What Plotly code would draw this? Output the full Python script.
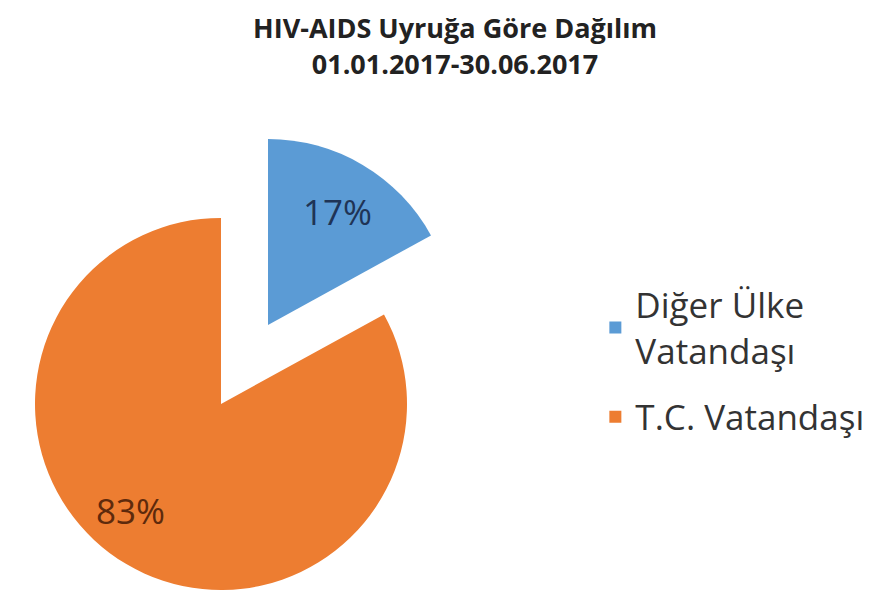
import plotly.graph_objects as go

# data
labels = ["Diğer Ülke<br>Vatandaşı", "T.C. Vatandaşı"]
values = [17, 83]
colors = ["#5B9BD5", "#ED7D31"]
text_colors = ["#1F3456", "#5E2A0C"]

title_text = "<b>HIV-AIDS Uyruğa Göre Dağılım<br>01.01.2017-30.06.2017</b>"

W, H = 894, 597
FONT = "Open Sans"
CLEAR = "rgba(0,0,0,0)"


def domain_px(cx, cy, r):
    """pie domain (paper units) for a circle given in figure pixels"""
    return dict(x=[(cx - r) / W, (cx + r) / W],
                y=[1 - (cy + r) / H, 1 - (cy - r) / H])


def pie(lbls, vals, marker_colors, dom, showlegend=False, group=None):
    return go.Pie(
        labels=lbls, values=vals, sort=False,
        direction="clockwise", rotation=0,
        marker=dict(colors=marker_colors),
        textinfo="none", hoverinfo="label+percent",
        domain=dom, showlegend=showlegend, legendgroup=group,
    )


fig = go.Figure()
# legend carriers (one per label so the groups get a gap), hidden under the orange slice
for i in range(len(labels)):
    fig.add_trace(pie([labels[i]], [values[i]], [colors[i]],
                      domain_px(150, 450, 1), showlegend=True, group=f"g{i}"))
# orange slice, blue left empty
fig.add_trace(pie(labels, values, [CLEAR, colors[1]], domain_px(213, 396, 186)))
# exploded blue slice
fig.add_trace(pie(labels, values, [colors[0], CLEAR], domain_px(260, 317, 186)))

total = sum(values)
label_pos = [(329, 204), (122, 502)]
for v, c, (px, py) in zip(values, text_colors, label_pos):
    fig.add_annotation(
        text=f"{round(100 * v / total)}%",
        x=px / W, y=1 - py / H, xref="paper", yref="paper",
        xanchor="center", yanchor="middle", showarrow=False,
        font=dict(family=FONT, size=35, color=c),
    )

fig.update_layout(
    width=W,
    height=H,
    paper_bgcolor="white",
    plot_bgcolor="white",
    margin=dict(t=0, l=0, r=0, b=0),
    title=dict(
        text=title_text,
        x=0.5, xanchor="center",
        y=0.949, yanchor="middle",
        font=dict(family=FONT, size=27, color="#222222"),
    ),
    legend=dict(
        x=0.657, xanchor="left",
        y=0.552, yanchor="top",
        font=dict(family=FONT, size=35, color="#333333"),
        bgcolor="rgba(0,0,0,0)",
        tracegroupgap=18,
    ),
)

fig.write_html("out.html")
